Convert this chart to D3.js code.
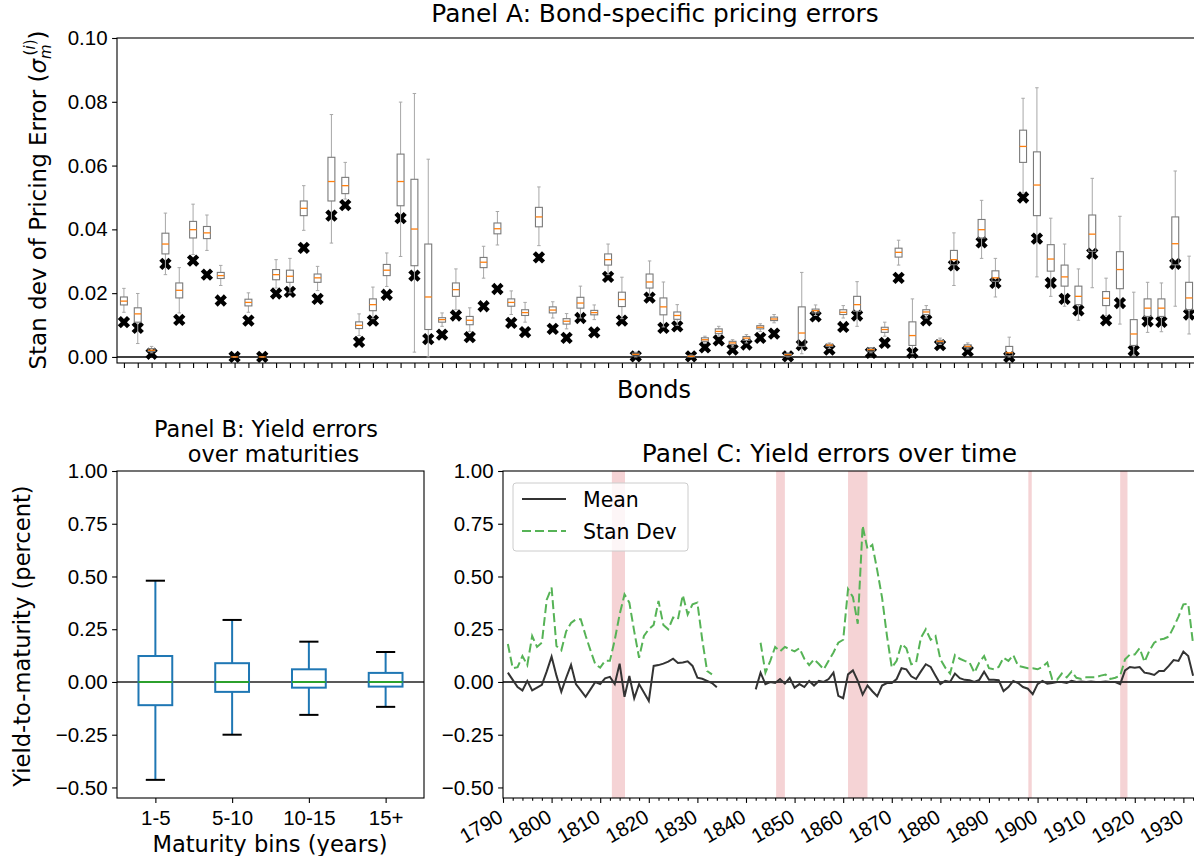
<!DOCTYPE html>
<html>
<head>
<meta charset="utf-8">
<script src="https://cdn.jsdelivr.net/npm/d3@7"></script>
<style>
  body { margin: 0; background: #fff; }
  svg { display: block; font-family: "DejaVu Sans", sans-serif; overflow: hidden; }
</style>
</head>
<body>
<svg id="chart" width="1194" height="856"></svg>
<script>
// ---- Panel A: bond-specific pricing errors (box stats per bond + model value) ----
const bondLo  = [0.014,0.0042,0.0013,0.0258,0.0138,0.0321,0.0334,0.0224,0,0.014,0,0.0216,0.0201,0.0397,0.0208,0.0357,0.0495,0.0067,0.012,0.0221,
                 0.0315,0.0015,0,0.0096,0.0148,0.008,0.0247,0.0351,0.0133,0.0109,0.0349,0.0122,0.0088,0.0122,0.0117,0.0258,0.012,0,0.019,0.0094,
                 0.0099,0,0.0042,0.0065,0.0031,0.0044,0.008,0.0107,0,0.001,0.013,0.0027,0.0122,0.0096,0.0013,0.0065,0.0288,0.001,0.0122,0.0039,
                 0.0224,0.0025,0.0309,0.0188,0,0.0514,0.0251,0.019,0.0159,0.0115,0.0217,0.013,0.0103,0.0005,0.0077,0.0079,0.0159,0.0072];
const bondQ1  = [0.0163,0.0109,0.0017,0.0323,0.0185,0.0373,0.0371,0.0246,0,0.016,0,0.0242,0.0234,0.0443,0.0234,0.0489,0.0512,0.0089,0.0145,0.0255,
                 0.0474,0.0286,0.0086,0.0109,0.019,0.0101,0.028,0.0386,0.0159,0.013,0.0408,0.0138,0.0103,0.0153,0.0132,0.0288,0.0158,0.0003,0.0216,0.0132,
                 0.0118,0,0.0049,0.0073,0.0039,0.0052,0.0088,0.0114,0.0002,0.0033,0.0138,0.0033,0.0133,0.0143,0.0018,0.0077,0.0313,0.0036,0.0133,0.0044,
                 0.0289,0.0029,0.0373,0.0237,0.0004,0.061,0.0443,0.0269,0.0222,0.0164,0.0331,0.0161,0.0214,0.0036,0.0127,0.0127,0.0289,0.0148];
const bondMed = [0.0175,0.0135,0.0021,0.0354,0.0209,0.0399,0.0389,0.0255,0,0.0171,0,0.0258,0.0253,0.0466,0.0248,0.055,0.0537,0.0099,0.0164,0.0272,
                 0.055,0.0401,0.0188,0.0117,0.0211,0.0115,0.0297,0.0402,0.0171,0.0139,0.0439,0.0147,0.0112,0.0169,0.0139,0.0305,0.018,0.0008,0.0235,0.0157,
                 0.013,0.0002,0.0054,0.008,0.0044,0.0059,0.0093,0.0119,0.0007,0.0075,0.0145,0.0037,0.014,0.0164,0.0023,0.0086,0.0328,0.0067,0.0141,0.0049,
                 0.0305,0.0033,0.0399,0.0248,0.0013,0.066,0.0539,0.0307,0.0251,0.019,0.0385,0.0184,0.0274,0.0072,0.0153,0.0153,0.0355,0.0185];
const bondQ3  = [0.0188,0.0154,0.0026,0.0388,0.0232,0.0425,0.0409,0.0265,0,0.0181,0,0.0274,0.0272,0.0489,0.026,0.0626,0.0563,0.011,0.0182,0.029,
                 0.0636,0.0557,0.0354,0.0123,0.0232,0.0127,0.0312,0.042,0.0182,0.0148,0.0469,0.0157,0.012,0.0187,0.0146,0.0323,0.0203,0.0012,0.026,0.0185,
                 0.0141,0.0004,0.006,0.0088,0.0049,0.0064,0.0098,0.0125,0.001,0.0157,0.015,0.004,0.0148,0.019,0.0028,0.0093,0.0341,0.011,0.0148,0.0052,
                 0.0334,0.0038,0.0431,0.027,0.0033,0.0711,0.0643,0.0352,0.0288,0.0222,0.0445,0.0205,0.033,0.0117,0.0182,0.0182,0.0439,0.0234];
const bondHi  = [0.0215,0.0199,0.0033,0.0451,0.028,0.0479,0.0445,0.0287,0,0.0201,0,0.0305,0.0309,0.0537,0.0284,0.076,0.061,0.0135,0.0219,0.0326,
                 0.0799,0.0826,0.062,0.0138,0.0276,0.0154,0.0347,0.0456,0.0207,0.0171,0.0533,0.0173,0.0136,0.0222,0.0163,0.0354,0.025,0.0015,0.0301,0.0235,
                 0.0164,0.0006,0.0065,0.0096,0.0054,0.007,0.0104,0.0133,0.0013,0.0265,0.0163,0.0044,0.0161,0.0236,0.0029,0.0109,0.0366,0.0182,0.0161,0.0059,
                 0.0389,0.0044,0.0491,0.0309,0.0062,0.0811,0.0844,0.0435,0.0354,0.0276,0.056,0.0247,0.0441,0.0203,0.0234,0.0232,0.0583,0.0316];
const bondModel = [0.0109,0.0091,0.001,0.0292,0.0116,0.0302,0.0258,0.0177,0,0.0114,0,0.0199,0.0204,0.0342,0.0182,0.0443,0.0476,0.0047,0.0114,0.0195,
                   0.0435,0.0255,0.0056,0.007,0.013,0.0062,0.0159,0.0213,0.0107,0.0078,0.0312,0.0088,0.006,0.0122,0.0077,0.0251,0.0114,0.0002,0.0186,0.0091,
                   0.0096,0.0002,0.003,0.0052,0.0023,0.0039,0.006,0.0073,0.0002,0.0037,0.0127,0.0023,0.0094,0.013,0.0013,0.0044,0.0248,0.0013,0.0115,0.0037,
                   0.0287,0.0018,0.0359,0.0232,0,0.05,0.0371,0.0232,0.0182,0.0146,0.0324,0.0115,0.0169,0.002,0.0112,0.011,0.0292,0.0133];
const yTicksA = [0, 0.02, 0.04, 0.06, 0.08, 0.10];

// ---- Panel B: yield errors by maturity bin ----
const binLabels = ["1-5", "5-10", "10-15", "15+"];
const binLo  = [-0.464, -0.25, -0.156, -0.118];
const binQ1  = [-0.11, -0.047, -0.027, -0.022];
const binMed = [0, 0, 0, 0];
const binQ3  = [0.123, 0.089, 0.06, 0.043];
const binHi  = [0.48, 0.294, 0.191, 0.142];
const yTicksBC = [-0.5, -0.25, 0, 0.25, 0.5, 0.75, 1.0];

// ---- Panel C: yield errors over time ----
const years = [1791,1792,1793,1794,1795,1796,1797,1798,1799,1800,1801,1802,1803,1804,1805,1806,1807,1808,1809,1810,
  1811,1812,1813,1814,1815,1816,1817,1818,1819,1820,1821,1822,1823,1824,1825,1826,1827,1828,1829,1830,
  1831,1832,1833,1834,1835,1836,1837,1838,1839,1840,1841,1842,1843,1844,1845,1846,1847,1848,1849,1850,
  1851,1852,1853,1854,1855,1856,1857,1858,1859,1860,1861,1862,1863,1864,1865,1866,1867,1868,1869,1870,
  1871,1872,1873,1874,1875,1876,1877,1878,1879,1880,1881,1882,1883,1884,1885,1886,1887,1888,1889,1890,
  1891,1892,1893,1894,1895,1896,1897,1898,1899,1900,1901,1902,1903,1904,1905,1906,1907,1908,1909,1910,
  1911,1912,1913,1914,1915,1916,1917,1918,1919,1920,1921,1922,1923,1924,1925,1926,1927,1928,1929,1930,
  1931,1932];
const meanErr = [0.044,0.01,-0.024,-0.04,0.005,-0.04,-0.027,-0.014,0.05,0.12,0.03,-0.046,0.02,0.081,-0.01,-0.04,-0.07,-0.035,0,-0.01,
  0.017,0.024,-0.01,0.087,-0.07,0.028,-0.077,-0.01,-0.05,-0.09,0.076,0.08,0.087,0.096,0.11,0.09,0.092,0.098,0.076,0.02,
  0.015,0.005,-0.005,-0.025,null,null,null,null,null,null,null,-0.035,0.044,-0.01,0,-0.005,0.014,-0.008,0.02,-0.027,
  -0.01,-0.024,0.005,-0.017,0.005,0,0.014,0.044,-0.066,-0.077,0.036,0.055,0.005,-0.06,-0.017,-0.044,-0.068,-0.017,-0.005,-0.005,
  0.014,0.065,0.06,0.027,0.014,0.05,0.084,0.071,0.03,-0.01,0.005,0,0.04,0.018,0.01,0.008,0,0.01,0.049,0.01,
  0.01,0.008,-0.043,-0.024,0.005,-0.005,-0.024,-0.032,-0.058,-0.01,0.005,-0.008,-0.005,0,0,-0.005,0.005,0,0.002,0,
  0.002,0,0,0.002,0,0,-0.01,0.055,0.071,0.068,0.071,0.044,0.04,0.033,0.052,0.052,0.076,0.104,0.1,0.144,
  0.123,0.03];
const sdErr = [0.18,0.065,0.07,0.123,0.08,0.218,0.166,0.186,0.39,0.447,0.17,0.15,0.24,0.28,0.297,0.297,0.22,0.15,0.084,0.068,
  0.1,0.1,0.2,0.32,0.415,0.376,0.24,0.115,0.218,0.25,0.27,0.384,0.27,0.25,0.305,0.297,0.412,0.32,0.368,0.376,
  0.2,0.052,0.036,null,null,null,null,null,null,null,null,null,0.186,0.044,0.1,0.166,0.145,0.166,0.155,0.145,
  0.16,0.11,0.08,0.107,0.085,0.06,0.1,0.14,0.186,0.2,0.44,0.403,0.276,0.74,0.63,0.65,0.53,0.4,0.22,0.068,
  0.1,0.18,0.16,0.084,0.092,0.21,0.25,0.2,0.218,0.107,0.068,0.04,0.128,0.11,0.1,0.092,0.044,0.092,0.123,0.065,
  0.06,0.071,0.115,0.1,0.128,0.076,0.071,0.065,0.065,0.06,0.071,0.092,0.014,0.01,0.04,0.022,0.049,0.02,0.014,0.022,
  0.022,0.022,0.03,0.035,0.014,0.02,0.03,0.107,0.13,0.13,0.16,0.095,0.148,0.186,0.2,0.205,0.215,0.26,0.31,0.368,
  0.37,0.18];
const warStart = [1812.4, 1846.2, 1861.0, 1898.1, 1917.0];
const warEnd   = [1815.1, 1848.0, 1865.0, 1898.8, 1918.5];
const yearTicks = [1790,1800,1810,1820,1830,1840,1850,1860,1870,1880,1890,1900,1910,1920,1930];

const svg = d3.select("#chart");
const fs = 20.5;     // tick labels
const fl = 22.6;     // axis labels

function styleAxis(g) {
    g.selectAll("path.domain").remove();
    g.selectAll("line").attr("stroke", "#000").attr("stroke-width", 1.1);
    g.selectAll("text").attr("font-size", fs).attr("fill", "#000");
}
function frame(l, r, t, b) {
    svg.append("rect").attr("x", l).attr("y", t).attr("width", r - l).attr("height", b - t)
        .attr("fill", "none").attr("stroke", "#000").attr("stroke-width", 1.1);
}

// ================= Panel A =================
const A = {l: 117, r: 1196, t: 38, b: 363};
const xA = d3.scaleLinear().domain([0.5, bondMed.length + 0.5]).range([A.l, A.r]);
const yA = d3.scaleLinear().domain([-0.0019, 0.10]).range([A.b, A.t]);
const bonds = bondMed.map((m, i) => ({pos: i + 1, lo: bondLo[i], q1: bondQ1[i], med: m, q3: bondQ3[i], hi: bondHi[i], model: bondModel[i]}));

svg.append("line").attr("x1", A.l).attr("x2", A.r).attr("y1", yA(0)).attr("y2", yA(0))
    .attr("stroke", "#000").attr("stroke-width", 1.5);

const xMark = d3.symbol().type(d3.symbolCross).size(95);
svg.append("g").selectAll("path").data(bonds).join("path")
    .attr("d", xMark)
    .attr("transform", d => `translate(${xA(d.pos)},${yA(d.model)}) rotate(45)`)
    .attr("fill", "#000");

const bw = (xA(2) - xA(1)) * 0.5;
const gA = svg.append("g").selectAll("g").data(bonds).join("g");
gA.append("line").attr("x1", d => xA(d.pos)).attr("x2", d => xA(d.pos))
    .attr("y1", d => yA(d.lo)).attr("y2", d => yA(d.q1)).attr("stroke", "#a8a8a8").attr("stroke-width", 1);
gA.append("line").attr("x1", d => xA(d.pos)).attr("x2", d => xA(d.pos))
    .attr("y1", d => yA(d.q3)).attr("y2", d => yA(d.hi)).attr("stroke", "#a8a8a8").attr("stroke-width", 1);
gA.each(function(d) {
    const g = d3.select(this);
    [d.lo, d.hi].forEach(v => g.append("line")
        .attr("x1", xA(d.pos) - bw / 4).attr("x2", xA(d.pos) + bw / 4)
        .attr("y1", yA(v)).attr("y2", yA(v)).attr("stroke", "#a8a8a8").attr("stroke-width", 1));
});
gA.append("rect").attr("x", d => xA(d.pos) - bw / 2).attr("width", bw)
    .attr("y", d => yA(d.q3)).attr("height", d => yA(d.q1) - yA(d.q3))
    .attr("fill", "none").attr("stroke", "#7a7a7a").attr("stroke-width", 1.1);
gA.append("line").attr("x1", d => xA(d.pos) - bw / 2).attr("x2", d => xA(d.pos) + bw / 2)
    .attr("y1", d => yA(d.med)).attr("y2", d => yA(d.med)).attr("stroke", "#ff7f0e").attr("stroke-width", 1.3);

svg.append("g").attr("transform", `translate(${A.l},0)`)
    .call(d3.axisLeft(yA).tickValues(yTicksA).tickFormat(d3.format(".2f")).tickSize(4.9).tickPadding(4.5))
    .call(styleAxis);
svg.append("g").attr("transform", `translate(0,${A.b})`)
    .call(d3.axisBottom(xA).tickValues(bonds.map(d => d.pos)).tickFormat("").tickSize(4.9))
    .call(styleAxis);
frame(A.l, A.r, A.t, A.b);

svg.append("text").attr("x", 655).attr("y", 22).attr("text-anchor", "middle").attr("font-size", 24.8)
    .text("Panel A: Bond-specific pricing errors");
svg.append("text").attr("x", 654).attr("y", 398).attr("text-anchor", "middle").attr("font-size", 24)
    .text("Bonds");
const yLabA = svg.append("text").attr("transform", "translate(46,200) rotate(-90)")
    .attr("text-anchor", "middle").attr("font-size", 23);
yLabA.append("tspan").text("Stan dev of Pricing Error (");
yLabA.append("tspan").attr("font-style", "italic").text("σ");
yLabA.append("tspan").attr("font-size", 15).attr("dy", 5).attr("font-style", "italic").text("m");
yLabA.append("tspan").attr("font-size", 15).attr("dy", -16).attr("dx", -11).text("(");
yLabA.append("tspan").attr("font-size", 15).attr("font-style", "italic").text("i");
yLabA.append("tspan").attr("font-size", 15).text(")");
yLabA.append("tspan").attr("dy", 11).text(")");

// ================= Panel B =================
const B = {l: 117, r: 424, t: 471, b: 798};
const xB = d3.scaleLinear().domain([0.5, binLabels.length + 0.5]).range([B.l, B.r]);
const yB = d3.scaleLinear().domain([-0.55, 1.0]).range([B.b, B.t]);
const bins = binLabels.map((c, i) => ({pos: i + 1, lo: binLo[i], q1: binQ1[i], med: binMed[i], q3: binQ3[i], hi: binHi[i]}));
const bwB = (xB(2) - xB(1)) * 0.44;
const capB = (xB(2) - xB(1)) * 0.25;

svg.append("line").attr("x1", B.l).attr("x2", B.r).attr("y1", yB(0)).attr("y2", yB(0))
    .attr("stroke", "#222").attr("stroke-width", 1.6);
const gB = svg.append("g").selectAll("g").data(bins).join("g");
gB.append("line").attr("x1", d => xB(d.pos)).attr("x2", d => xB(d.pos))
    .attr("y1", d => yB(d.lo)).attr("y2", d => yB(d.q1)).attr("stroke", "#1f77b4").attr("stroke-width", 2);
gB.append("line").attr("x1", d => xB(d.pos)).attr("x2", d => xB(d.pos))
    .attr("y1", d => yB(d.q3)).attr("y2", d => yB(d.hi)).attr("stroke", "#1f77b4").attr("stroke-width", 2);
gB.each(function(d) {
    const g = d3.select(this);
    [d.lo, d.hi].forEach(v => g.append("line")
        .attr("x1", xB(d.pos) - capB / 2).attr("x2", xB(d.pos) + capB / 2)
        .attr("y1", yB(v)).attr("y2", yB(v)).attr("stroke", "#000").attr("stroke-width", 2));
});
gB.append("rect").attr("x", d => xB(d.pos) - bwB / 2).attr("width", bwB)
    .attr("y", d => yB(d.q3)).attr("height", d => yB(d.q1) - yB(d.q3))
    .attr("fill", "none").attr("stroke", "#1f77b4").attr("stroke-width", 2);
gB.append("line").attr("x1", d => xB(d.pos) - bwB / 2).attr("x2", d => xB(d.pos) + bwB / 2)
    .attr("y1", d => yB(d.med)).attr("y2", d => yB(d.med)).attr("stroke", "#2ca02c").attr("stroke-width", 2);

svg.append("g").attr("transform", `translate(${B.l},0)`)
    .call(d3.axisLeft(yB).tickValues(yTicksBC).tickFormat(d3.format(".2f")).tickSize(4.9).tickPadding(4.5))
    .call(styleAxis);
svg.append("g").attr("transform", `translate(0,${B.b})`)
    .call(d3.axisBottom(xB).tickValues(bins.map(d => d.pos)).tickFormat((d, i) => binLabels[i]).tickSize(4.9))
    .call(styleAxis)
    .selectAll("text").attr("dy", 0).attr("y", 27);
frame(B.l, B.r, B.t, B.b);

svg.append("text").attr("x", 266).attr("y", 437).attr("text-anchor", "middle").attr("font-size", 22.4)
    .text("Panel B: Yield errors");
svg.append("text").attr("x", 273.5).attr("y", 462).attr("text-anchor", "middle").attr("font-size", 22.4)
    .text("over maturities");
svg.append("text").attr("x", 270).attr("y", 852).attr("text-anchor", "middle").attr("font-size", fl)
    .text("Maturity bins (years)");
svg.append("text").attr("transform", "translate(30,636) rotate(-90)").attr("text-anchor", "middle")
    .attr("font-size", fl).text("Yield-to-maturity (percent)");

// ================= Panel C =================
const C = {l: 503, r: 1196, t: 471, b: 798};
const xC = d3.scaleLinear().domain([1790, 1932.6]).range([C.l, C.r]);
const yC = d3.scaleLinear().domain([-0.55, 1.0]).range([C.b, C.t]);

svg.append("g").selectAll("rect").data(warStart).join("rect")
    .attr("x", d => xC(d)).attr("width", (d, i) => xC(warEnd[i]) - xC(d))
    .attr("y", C.t).attr("height", C.b - C.t).attr("fill", "#f5d3d5");
svg.append("line").attr("x1", C.l).attr("x2", C.r).attr("y1", yC(0)).attr("y2", yC(0))
    .attr("stroke", "#000").attr("stroke-width", 1.5);

const lineC = vals => d3.line().defined((d, i) => vals[i] !== null)
    .x((d, i) => xC(years[i])).y((d, i) => yC(vals[i]))(years);
svg.append("path").attr("d", lineC(sdErr)).attr("fill", "none")
    .attr("stroke", "#56b356").attr("stroke-width", 2).attr("stroke-dasharray", "9,4");
svg.append("path").attr("d", lineC(meanErr)).attr("fill", "none")
    .attr("stroke", "#333").attr("stroke-width", 2);

svg.append("g").attr("transform", `translate(${C.l},0)`)
    .call(d3.axisLeft(yC).tickValues(yTicksBC).tickFormat(d3.format(".2f")).tickSize(4.9).tickPadding(4.5))
    .call(styleAxis);
const minorYears = d3.range(1790, 1934, 2).filter(y => y % 10 !== 0);
svg.append("g").attr("transform", `translate(0,${C.b})`)
    .call(d3.axisBottom(xC).tickValues(minorYears).tickFormat("").tickSize(2.8))
    .call(styleAxis);
const xAxC = svg.append("g").attr("transform", `translate(0,${C.b})`)
    .call(d3.axisBottom(xC).tickValues(yearTicks).tickFormat(d3.format("d")).tickSize(4.9))
    .call(styleAxis);
xAxC.selectAll("text").attr("text-anchor", "end").attr("dy", null)
    .attr("transform", "translate(1,23) rotate(-30)").attr("y", 0).attr("x", 0);
frame(C.l, C.r, C.t, C.b);

svg.append("text").attr("x", 829.5).attr("y", 462).attr("text-anchor", "middle").attr("font-size", 24.8)
    .text("Panel C: Yield errors over time");

// legend
const lg = svg.append("g").attr("transform", "translate(513,483)");
lg.append("rect").attr("width", 175).attr("height", 68).attr("rx", 3)
    .attr("fill", "#fff").attr("fill-opacity", 0.8).attr("stroke", "#ccc");
lg.append("line").attr("x1", 9).attr("x2", 53).attr("y1", 16).attr("y2", 16).attr("stroke", "#333").attr("stroke-width", 2);
lg.append("line").attr("x1", 9).attr("x2", 53).attr("y1", 48).attr("y2", 48)
    .attr("stroke", "#56b356").attr("stroke-width", 2).attr("stroke-dasharray", "9,4");
lg.append("text").attr("x", 70).attr("y", 23.5).attr("font-size", fs).text("Mean");
lg.append("text").attr("x", 70).attr("y", 55.5).attr("font-size", fs).text("Stan Dev");
</script>
</body>
</html>
